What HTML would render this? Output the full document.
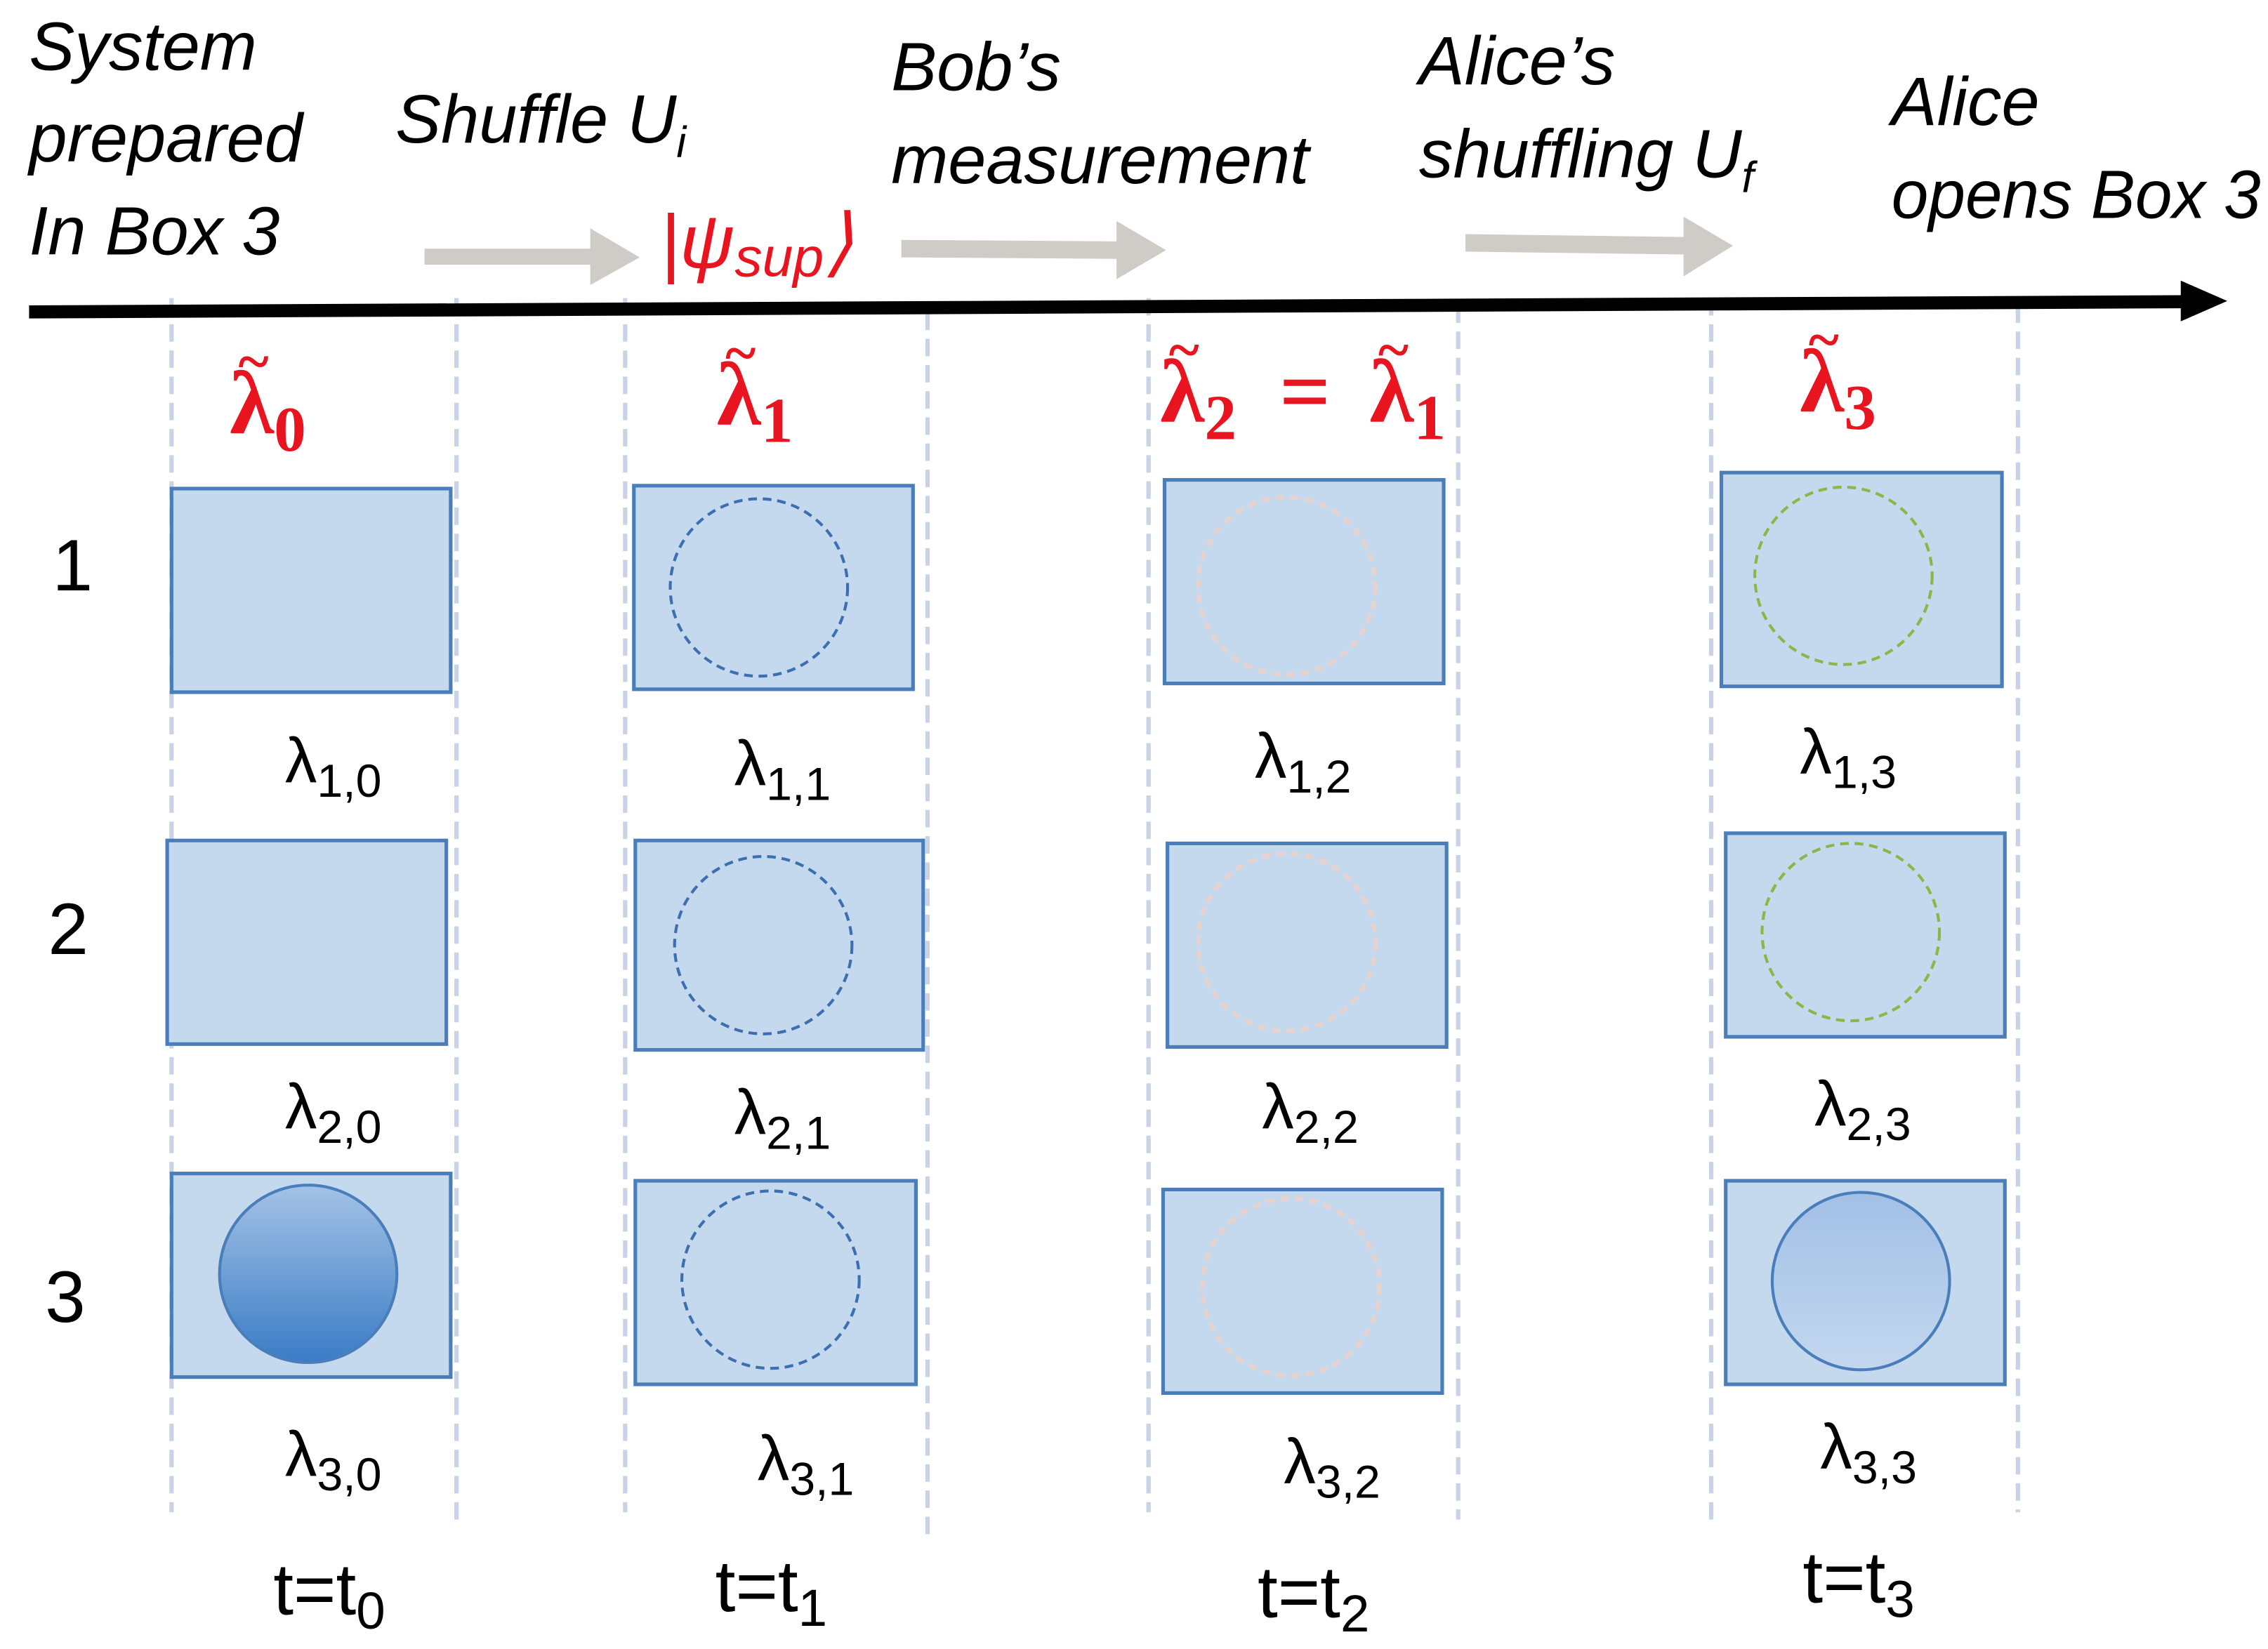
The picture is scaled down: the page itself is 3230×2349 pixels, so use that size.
<!DOCTYPE html>
<html><head><meta charset="utf-8"><style>
html,body{margin:0;padding:0;background:#fff;}
svg{display:block;}
text{font-family:"Liberation Sans",sans-serif;}
.h{font-style:italic;font-size:47px;fill:#000;}
.r{font-family:"Liberation Serif",serif;font-weight:bold;fill:#e8141f;font-size:62px;}
.t{font-family:"Liberation Serif",serif;font-weight:bold;fill:#e8141f;font-size:40px;}
.l{font-size:44px;fill:#000;}
.n{font-size:50px;fill:#000;}
</style></head><body>
<svg width="3230" height="2349" viewBox="0 0 1560 1134" preserveAspectRatio="none">
<defs>
<linearGradient id="g0" x1="0" y1="0" x2="0" y2="1"><stop offset="0" stop-color="#a4c2e6"/><stop offset="1" stop-color="#3a7cc6"/></linearGradient>
<linearGradient id="g3" x1="0" y1="0" x2="0" y2="1"><stop offset="0" stop-color="#a2c0e6"/><stop offset="1" stop-color="#c3d7ef"/></linearGradient>
</defs>
<g stroke="#c8d3e6" stroke-width="3" stroke-dasharray="12,6">
<line x1="118" y1="205" x2="118" y2="1040"/><line x1="314" y1="205" x2="314" y2="1045"/>
<line x1="430" y1="205" x2="430" y2="1040"/><line x1="638" y1="215" x2="638" y2="1055"/>
<line x1="790" y1="205" x2="790" y2="1040"/><line x1="1003" y1="210" x2="1003" y2="1045"/>
<line x1="1177" y1="205" x2="1177" y2="1050"/><line x1="1388" y1="210" x2="1388" y2="1040"/>
</g>
<polygon points="20,210 1500,203 1500,193 1532,207 1500,221 1500,212 20,219" fill="#000"/>
<g fill="#cfcbc7">
<polygon points="292,171 406,171 406,157 440,177 406,196 406,182 292,182"/>
<polygon points="620,165 768,166 768,152 802,172 768,192 768,178 620,177"/>
<polygon points="1008,161 1158,163 1158,149 1192,169 1158,190 1158,175 1008,173"/>
</g>
<text class="h" x="20" y="48">System</text>
<text class="h" x="20" y="111">prepared</text>
<text class="h" x="20" y="175">In Box 3</text>
<text class="h" x="272" y="98">Shuffle U<tspan font-size="30" dy="10">i</tspan></text>
<text class="h" x="613" y="62">Bob’s</text>
<text class="h" x="613" y="126">measurement</text>
<text class="h" x="976" y="58">Alice’s</text>
<text class="h" x="976" y="122">shuffling U<tspan font-size="30" dy="10">f</tspan></text>
<text class="h" x="1301" y="86">Alice</text>
<text class="h" x="1301" y="150" textLength="254" lengthAdjust="spacingAndGlyphs">opens Box 3</text>
<text x="454" y="184" font-family="Liberation Serif,serif" font-style="italic" font-size="52" fill="#e8141f">|ψ<tspan font-size="38" dy="6">sup</tspan><tspan dy="-6">⟩</tspan></text>
<text class="r" x="158" y="298">λ<tspan font-size="44" dy="12">0</tspan></text><text class="t" x="164" y="262">~</text>
<text class="r" x="493" y="292">λ<tspan font-size="44" dy="12">1</tspan></text><text class="t" x="499" y="256">~</text>
<text class="r" x="798" y="290">λ<tspan font-size="44" dy="12">2</tspan></text><text class="t" x="804" y="254">~</text>
<text class="r" x="880" y="290">=</text>
<text class="r" x="942" y="290">λ<tspan font-size="44" dy="12">1</tspan></text><text class="t" x="948" y="254">~</text>
<text class="r" x="1238" y="283">λ<tspan font-size="44" dy="12">3</tspan></text><text class="t" x="1244" y="247">~</text>
<text class="n" x="36" y="406">1</text>
<text class="n" x="33" y="656">2</text>
<text class="n" x="31" y="909">3</text>
<g fill="#c5d9ee" stroke="#4a7ebb" stroke-width="2.5">
<rect x="118" y="336" width="192" height="140"/><rect x="436" y="334" width="192" height="140"/>
<rect x="801" y="330" width="192" height="140"/><rect x="1184" y="325" width="193" height="147"/>
<rect x="115" y="578" width="192" height="140"/><rect x="437" y="578" width="198" height="144"/>
<rect x="803" y="580" width="192" height="140"/><rect x="1187" y="573" width="192" height="140"/>
<rect x="118" y="807" width="192" height="140"/><rect x="437" y="812" width="193" height="140"/>
<rect x="800" y="818" width="192" height="140"/><rect x="1187" y="812" width="192" height="140"/>
</g>
<g fill="none" stroke-width="2" stroke-dasharray="6,4">
<circle cx="522" cy="404" r="61" stroke="#3d6fb0"/>
<circle cx="525" cy="650" r="61" stroke="#3d6fb0"/>
<circle cx="530" cy="880" r="61" stroke="#3d6fb0"/>
<circle cx="885" cy="403" r="61" stroke="#e6d2ce" stroke-width="3"/>
<circle cx="885" cy="648" r="61" stroke="#e6d2ce" stroke-width="3"/>
<circle cx="888" cy="885" r="61" stroke="#e6d2ce" stroke-width="3"/>
<circle cx="1268" cy="396" r="61" stroke="#8db548"/>
<circle cx="1273" cy="641" r="61" stroke="#8db548"/>
</g>
<circle cx="212" cy="876" r="61" fill="url(#g0)" stroke="#4a7ebb" stroke-width="2"/>
<circle cx="1280" cy="881" r="61" fill="url(#g3)" stroke="#4a7ebb" stroke-width="2"/>
<text class="l" x="196" y="538">λ<tspan font-size="32" dy="10">1,0</tspan></text>
<text class="l" x="505" y="540">λ<tspan font-size="32" dy="10">1,1</tspan></text>
<text class="l" x="863" y="535">λ<tspan font-size="32" dy="10">1,2</tspan></text>
<text class="l" x="1238" y="532">λ<tspan font-size="32" dy="10">1,3</tspan></text>
<text class="l" x="196" y="776">λ<tspan font-size="32" dy="10">2,0</tspan></text>
<text class="l" x="505" y="780">λ<tspan font-size="32" dy="10">2,1</tspan></text>
<text class="l" x="868" y="776">λ<tspan font-size="32" dy="10">2,2</tspan></text>
<text class="l" x="1248" y="774">λ<tspan font-size="32" dy="10">2,3</tspan></text>
<text class="l" x="196" y="1015">λ<tspan font-size="32" dy="10">3,0</tspan></text>
<text class="l" x="521" y="1018">λ<tspan font-size="32" dy="10">3,1</tspan></text>
<text class="l" x="883" y="1020">λ<tspan font-size="32" dy="10">3,2</tspan></text>
<text class="l" x="1252" y="1010">λ<tspan font-size="32" dy="10">3,3</tspan></text>
<text class="n" x="188" y="1110">t=t<tspan font-size="36" dy="10">0</tspan></text>
<text class="n" x="492" y="1108">t=t<tspan font-size="36" dy="10">1</tspan></text>
<text class="n" x="865" y="1112">t=t<tspan font-size="36" dy="10">2</tspan></text>
<text class="n" x="1240" y="1102">t=t<tspan font-size="36" dy="10">3</tspan></text>
</svg>
</body></html>
